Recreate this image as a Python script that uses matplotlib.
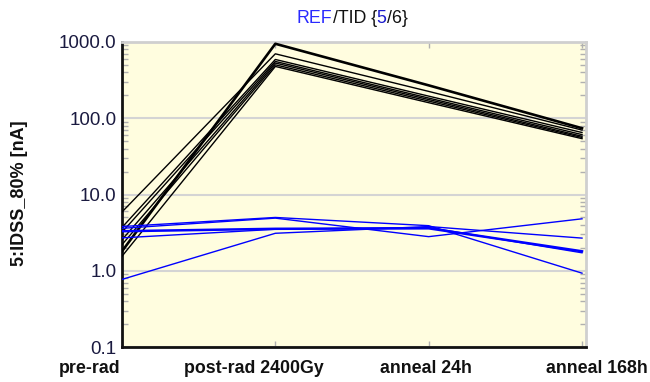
import matplotlib
matplotlib.use("Agg")
import matplotlib.pyplot as plt
from matplotlib.ticker import FixedLocator, NullFormatter, LogLocator
from matplotlib.transforms import IdentityTransform
import numpy as np

plt.rcParams['font.family'] = ['Liberation Sans', 'DejaVu Sans']

categories = ["pre-rad", "post-rad 2400Gy", "anneal 24h", "anneal 168h"]
y_ticks = [0.1, 1.0, 10.0, 100.0, 1000.0]
y_tick_labels = ["0.1", "1.0", "10.0", "100.0", "1000.0"]
y_label = "5:IDSS_80% [nA]"

# TID (irradiated) devices - black
tid_series = [
    [1.8, 948, 270, 74],
    [5.9, 700, 225, 70],
    [3.7, 590, 195, 65],
    [3.2, 556, 184, 61],
    [2.55, 530, 176, 58],
    [2.2, 502, 168, 56],
    [1.55, 478, 160, 54],
]
# REF devices - blue
ref_series = [
    [3.8, 5.0, 3.9, 0.93],
    [3.6, 4.9, 2.8, 4.8],
    [3.3, 3.55, 3.6, 1.8],
    [2.7, 3.5, 3.7, 1.72],
    [0.77, 3.1, 3.8, 2.68],
]

W, H = 650, 382
fig = plt.figure(figsize=(W / 100, H / 100), dpi=100)
ax = fig.add_axes([122 / W, 1 - 347 / H, (586 - 122) / W, (347 - 42) / H])
ax.set_facecolor("#fffddf")

x = np.arange(len(categories))
for i, s in enumerate(tid_series):
    ax.plot(x, s, color="black", lw=1.9 if i == 0 else 1.0, zorder=3)
for i, s in enumerate(ref_series):
    ax.plot(x, s, color="#0000ff", lw=1.8 if i == 2 else 1.0, zorder=4)

ax.set_yscale("log")

# y ticks
ax.yaxis.set_major_locator(FixedLocator(y_ticks))
ax.set_yticklabels(y_tick_labels)
ax.yaxis.set_minor_locator(LogLocator(base=10, subs=np.arange(2, 10)))
ax.yaxis.set_minor_formatter(NullFormatter())
ax.tick_params(axis="y", which="major", length=0, pad=4, labelsize=13.5, labelcolor="#1a1a40")
ax.tick_params(axis="y", which="minor", direction="in", length=4, width=1, color="#b0b0b0",
               left=True, right=True)
ax.grid(axis="y", which="major", color="#d4d4d4", lw=1.5, zorder=1)

# x tick marks at the categories; labels spread out as in the original tool
ax.set_xticks(x)
ax.set_xticklabels([])
ax.tick_params(axis="x", which="major", direction="in", length=4, width=1, color="#b0b0b0",
               top=True, bottom=True)
label_pos = [-0.209, 0.861, 1.983, 3.098]
for pos, lab in zip(label_pos, categories):
    ax.text(pos, -0.042, lab, transform=ax.get_xaxis_transform(), ha="center", va="top",
            fontsize=12.8, fontweight="bold", color="#111111", clip_on=False)

ax.set_ylim(0.1, 1000)
ax.set_xlim(0, 3.026)

for side in ("top", "right"):
    ax.spines[side].set_color("#cfcfcf")
    ax.spines[side].set_linewidth(2)
for side in ("left", "bottom"):
    ax.spines[side].set_color("#111111")
    ax.spines[side].set_linewidth(2)

fig.text(20 / W, 1 - 193 / H, y_label, rotation=90, ha="center", va="center",
         fontsize=13, fontweight="bold", color="#111111")

# title in coloured pieces, chained left to right
pieces = [("REF", "#2a2aff"), ("/TID {", "#111111"), ("5", "#1a1acc"), ("/", "#111111"),
          ("6", "#111111"), ("}", "#111111")]
x0 = 297.0
fig.canvas.draw()
renderer = fig.canvas.get_renderer()
for txt, col in pieces:
    t = fig.text(x0, H - 23, txt, color=col, fontsize=12.8, ha="left", va="baseline",
                 transform=IdentityTransform())
    x0 = t.get_window_extent(renderer).x1

fig.savefig("out.png", dpi=100)
